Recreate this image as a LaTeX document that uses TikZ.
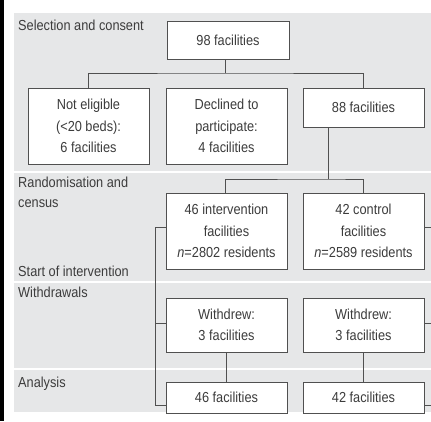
\documentclass[tikz,border=0pt]{standalone}
\usepackage{fontspec}
\setmainfont{Liberation Sans}[FakeStretch=0.88]
\definecolor{band}{HTML}{E6E7E8}
\definecolor{ink}{HTML}{3C3C3C}
\definecolor{edge}{HTML}{505050}
\tikzset{
  box/.style={draw=edge, line width=1pt, fill=white, inner sep=0pt, minimum width=121pt, align=center, text=ink, font=\fontsize{14.5}{21.5}\selectfont},
  lab/.style={anchor=base west, inner sep=0pt, text=ink, font=\fontsize{14.5}{20}\selectfont},
  conn/.style={draw=edge, line width=1pt}
}
\begin{document}
\begin{tikzpicture}[x=1pt,y=-1pt]
\useasboundingbox (0,0) rectangle (431,421);
\fill[white] (0,0) rectangle (431,421);
\fill[black] (0,0) rectangle (3.5,421);
\fill[band] (14,13) rectangle (431,170.5);
\fill[band] (14,172.5) rectangle (431,281);
\fill[band] (14,283) rectangle (431,368);
\fill[band] (14,370) rectangle (431,412);

\node[lab] (l1) at (18,30) {Selection and consent};
\node[lab] (l2) at (18,187) {Randomisation and};
\node[lab] (l2b) at (18,207) {census};
\node[lab] (l3) at (18,276) {Start of intervention};
\node[lab] (l4) at (18,297) {Withdrawals};
\node[lab] (l5) at (18,387) {Analysis};

\node[box, minimum width=122pt, minimum height=38pt] (top) at (228,40) {98 facilities};
\node[box, minimum height=76pt] (ne) at (88.5,126) {Not eligible\\(<20 beds):\\6 facilities};
\node[box, minimum height=76pt] (dec) at (226.5,126) {Declined to\\participate:\\4 facilities};
\node[box, minimum height=39pt] (f88) at (363.5,107.5) {88 facilities};
\node[box, minimum height=76pt] (int) at (226.5,231) {46 intervention\\facilities\\\textit{n}=2802 residents};
\node[box, minimum height=76pt] (ctl) at (363.5,231) {42 control\\facilities\\\textit{n}=2589 residents};
\node[box, minimum height=54pt] (wi) at (226.5,325) {Withdrew:\\3 facilities};
\node[box, minimum height=54pt] (wc) at (363.5,325) {Withdrew:\\3 facilities};
\node[box, minimum height=31pt] (ai) at (226.5,397.5) {46 facilities};
\node[box, minimum height=31pt] (ac) at (363.5,397.5) {42 facilities};

\coordinate (b1) at (225,73);
\coordinate (b2) at (328,179);
\coordinate (lv) at (155,227);
\coordinate (rend1) at (431,227);
\coordinate (rend2) at (431,323);
\coordinate (rend3) at (431,405);

\draw[conn] (b1 |- top.south) -- (b1);
\draw[conn] (ne.north) |- (b1) -| (f88.north);
\draw[conn] (b2 |- f88.south) -- (b2);
\draw[conn] ([xshift=-1.5]int.north) |- (b2) -| (ctl.north);
\draw[conn] (int.west |- lv) -- (lv) |- (ai.west |- rend3);
\draw[conn] (lv |- rend2) -- (wi.west |- rend2);
\draw[conn] (ctl.east |- rend1) -- (rend1);
\draw[conn] (wc.east |- rend2) -- (rend2);
\draw[conn] (ac.east |- rend3) -- (rend3);
\draw[conn] (wi.south) -- (ai.north);
\draw[conn] (wc.south) -- (ac.north);
\end{tikzpicture}
\end{document}
